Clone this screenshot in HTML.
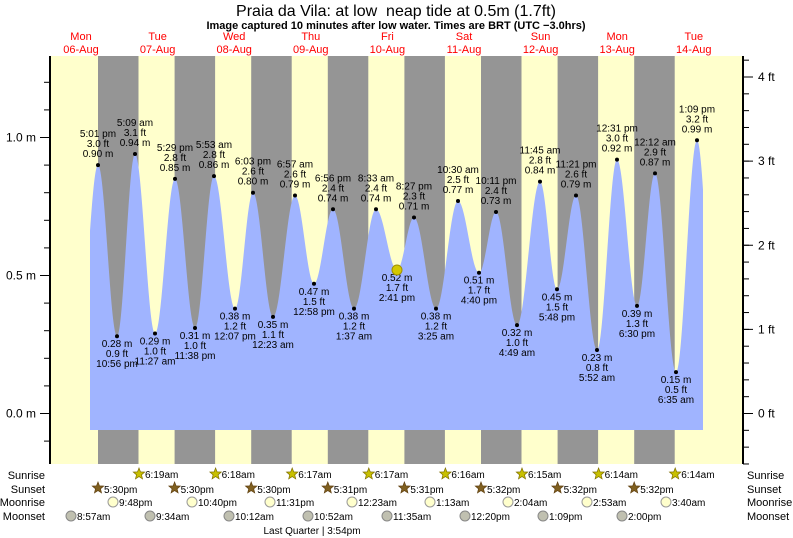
<!DOCTYPE html>
<html><head><meta charset="utf-8"><style>
html,body{margin:0;padding:0;background:#fff;width:793px;height:538px;overflow:hidden}
svg{display:block;font-family:"Liberation Sans",sans-serif}
</style></head><body>
<svg id="s" width="793" height="538" xmlns="http://www.w3.org/2000/svg"></svg>
<script>
const s=document.getElementById('s');let h='';
const Y=v=>413.5-276*v;
h+='<rect x="50" y="56" width="693" height="408" fill="#ffffcc"/>';
for(let k=0;k<8;k++){const x=98+76.6*k;h+=`<rect x="${x.toFixed(1)}" y="56" width="40.5" height="408" fill="#959595"/>`;}
const ex=[[79,0.27],[98,0.90],[117,0.28],[135,0.94],[155,0.29],[175,0.85],[195,0.31],[214,0.86],[235,0.38],[253,0.80],[273,0.35],[295,0.79],[314,0.47],[333,0.74],[354,0.38],[376,0.74],[397,0.52],[414,0.71],[436,0.38],[458,0.77],[479,0.51],[496,0.73],[517,0.32],[540,0.84],[557,0.45],[576,0.79],[597,0.23],[617,0.92],[637,0.39],[655,0.87],[676,0.15],[697,0.99],[716,0.2]];
let p='M90,430';
for(let x=90;x<=703;x+=0.5){let i=0;while(i<ex.length-2&&ex[i+1][0]<x)i++;const [x0,v0]=ex[i],[x1,v1]=ex[i+1];const t=(x-x0)/(x1-x0);const v=v0+(v1-v0)*(1-Math.cos(Math.PI*t))/2;p+=`L${x},${Y(v).toFixed(1)}`;}
p+='L703,430Z';
h+=`<path d="${p}" fill="#a0b4ff"/>`;
h+='<line x1="50" y1="56" x2="50" y2="464" stroke="#000" stroke-width="2"/><line x1="743" y1="56" x2="743" y2="464" stroke="#000" stroke-width="2"/>';
for(let v=-0.1;v<=1.31;v+=0.1){const y=Y(v);if(y<56||y>464)continue;h+=`<line x1="44" y1="${y}" x2="50" y2="${y}" stroke="#000"/>`;}
[[1,'1.0 m'],[0.5,'0.5 m'],[0,'0.0 m']].forEach(([v,t])=>{const y=Y(v);h+=`<line x1="40" y1="${y}" x2="50" y2="${y}" stroke="#000"/><text x="36" y="${y+4}" font-size="12" text-anchor="end">${t}</text>`;});
for(let f=-1.6;f<=4.5;f+=0.2){const y=Y(f*0.3048);if(y<56||y>464)continue;h+=`<line x1="743" y1="${y}" x2="749" y2="${y}" stroke="#000"/>`;}
for(let f=0;f<=4;f++){const y=Y(f*0.3048);h+=`<line x1="743" y1="${y}" x2="753" y2="${y}" stroke="#000"/><text x="758" y="${y+4}" font-size="12">${f} ft</text>`;}
const L=[[98,0.90,'5:01 pm','3.0 ft',1],[117,0.28,'10:56 pm','0.9 ft',0],[135,0.94,'5:09 am','3.1 ft',1],[155,0.29,'11:27 am','1.0 ft',0],[175,0.85,'5:29 pm','2.8 ft',1],[195,0.31,'11:38 pm','1.0 ft',0],[214,0.86,'5:53 am','2.8 ft',1],[235,0.38,'12:07 pm','1.2 ft',0],[253,0.80,'6:03 pm','2.6 ft',1],[273,0.35,'12:23 am','1.1 ft',0],[295,0.79,'6:57 am','2.6 ft',1],[314,0.47,'12:58 pm','1.5 ft',0],[333,0.74,'6:56 pm','2.4 ft',1],[354,0.38,'1:37 am','1.2 ft',0],[376,0.74,'8:33 am','2.4 ft',1],[397,0.52,'2:41 pm','1.7 ft',0],[414,0.71,'8:27 pm','2.3 ft',1],[436,0.38,'3:25 am','1.2 ft',0],[458,0.77,'10:30 am','2.5 ft',1],[479,0.51,'4:40 pm','1.7 ft',0],[496,0.73,'10:11 pm','2.4 ft',1],[517,0.32,'4:49 am','1.0 ft',0],[540,0.84,'11:45 am','2.8 ft',1],[557,0.45,'5:48 pm','1.5 ft',0],[576,0.79,'11:21 pm','2.6 ft',1],[597,0.23,'5:52 am','0.8 ft',0],[617,0.92,'12:31 pm','3.0 ft',1],[637,0.39,'6:30 pm','1.3 ft',0],[655,0.87,'12:12 am','2.9 ft',1],[676,0.15,'6:35 am','0.5 ft',0],[697,0.99,'1:09 pm','3.2 ft',1]];
L.forEach(([x,v,t,f,hi])=>{const y=Y(v);const m=v.toFixed(2)+' m';h+=`<circle cx="${x}" cy="${y}" r="2" fill="#000"/>`;
const tx=(yy,s)=>`<text x="${x}" y="${yy}" font-size="10" text-anchor="middle">${s}</text>`;
if(hi)h+=tx(y-30+2,t)+tx(y-20+2,f)+tx(y-8,m);else h+=tx(y+11,m)+tx(y+21,f)+tx(y+31,t);});
h+=`<circle cx="397" cy="${Y(0.52)}" r="5" fill="#d4c800" stroke="#a09000"/>`;
h+='<text x="396" y="16" font-size="16" text-anchor="middle">Praia da Vila: at low&#160; neap tide at 0.5m (1.7ft)</text>';
h+='<text x="396" y="29" font-size="11" font-weight="bold" text-anchor="middle">Image captured 10 minutes after low water. Times are BRT (UTC −3.0hrs)</text>';
const D=['Mon','Tue','Wed','Thu','Fri','Sat','Sun','Mon','Tue'];
D.forEach((d,i)=>{const x=81+76.6*i;h+=`<text x="${x}" y="40" font-size="11" fill="#ff0000" text-anchor="middle">${d}</text><text x="${x}" y="53" font-size="11" fill="#ff0000" text-anchor="middle">${('0'+(6+i)).slice(-2)}-Aug</text>`;});
['Sunrise','Sunset','Moonrise','Moonset'].forEach((t,i)=>{const y=[479,493,506,520][i];h+=`<text x="45" y="${y}" font-size="11" text-anchor="end">${t}</text><text x="747" y="${y}" font-size="11">${t}</text>`;});
const star=(cx,cy,fill,st)=>{let q='';for(let i=0;i<10;i++){const r=i%2?2.6:6;const a=-Math.PI/2+i*Math.PI/5;q+=(cx+r*Math.cos(a)).toFixed(1)+','+(cy+r*Math.sin(a)).toFixed(1)+' ';}return `<polygon points="${q}" fill="${fill}" stroke="${st}" stroke-width="0.7"/>`;};
const sr=['6:19am','6:18am','6:17am','6:17am','6:16am','6:15am','6:14am','6:14am'];
const ss=['5:30pm','5:30pm','5:30pm','5:31pm','5:31pm','5:32pm','5:32pm','5:32pm'];
sr.forEach((t,i)=>{const x=139+76.6*i;h+=star(x,474,'#c8c000','#807000')+`<text x="${x+6}" y="478" font-size="10">${t}</text>`;});
ss.forEach((t,i)=>{const x=98+76.6*i;h+=star(x,488,'#806020','#604010')+`<text x="${x+6}" y="493" font-size="10">${t}</text>`;});
const mr=[[113,'9:48pm'],[192,'10:40pm'],[270,'11:31pm'],[352,'12:23am'],[430,'1:13am'],[508,'2:04am'],[587,'2:53am'],[666,'3:40am']];
mr.forEach(([x,t])=>{h+=`<circle cx="${x}" cy="502" r="5" fill="#ffffcc" stroke="#999"/><text x="${x+6}" y="506" font-size="10">${t}</text>`;});
const ms=[[71,'8:57am'],[150,'9:34am'],[229,'10:12am'],[308,'10:52am'],[387,'11:35am'],[465,'12:20pm'],[543,'1:09pm'],[622,'2:00pm']];
ms.forEach(([x,t])=>{h+=`<circle cx="${x}" cy="516" r="5" fill="#c0c0b0" stroke="#888"/><text x="${x+6}" y="520" font-size="10">${t}</text>`;});
h+='<text x="312" y="534" font-size="10" text-anchor="middle">Last Quarter | 3:54pm</text>';
s.innerHTML=h;
</script>
</body></html>
